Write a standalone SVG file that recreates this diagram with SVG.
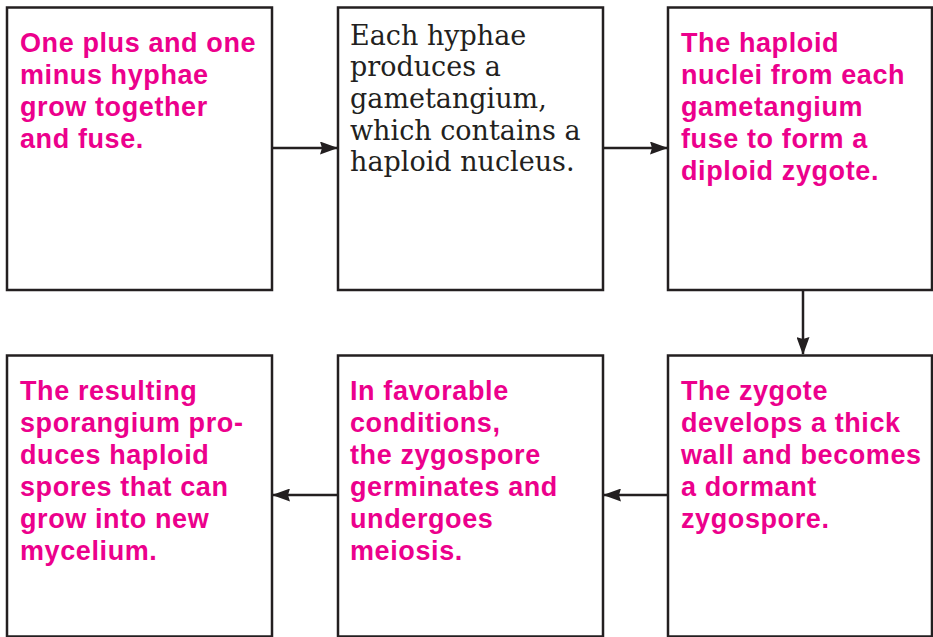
<svg xmlns="http://www.w3.org/2000/svg" width="933" height="637" viewBox="0 0 933 637">
<style>
.box{fill:#fff;stroke:#231f20;stroke-width:2.5}
.pk{font-family:"Liberation Sans",Arial,sans-serif;font-weight:bold;font-size:27px;letter-spacing:0.6px;fill:#ec008c}
.sr{font-family:"DejaVu Serif","Liberation Serif",serif;font-size:27px;fill:#231f20}
.con{stroke:#231f20;stroke-width:2.5;fill:none;marker-end:url(#ah)}
</style>
<defs>
<marker id="ah" viewBox="0 0 18 13" refX="17" refY="6.5" markerWidth="18" markerHeight="13" markerUnits="userSpaceOnUse" orient="auto">
<path d="M0,0 L18,6.5 L0,13 L2,6.5 Z" fill="#231f20"/>
</marker>
</defs>
<rect width="933" height="637" fill="#fff"/>
<g id="connectors">
<line class="con" x1="273" y1="148" x2="337" y2="148"/>
<line class="con" x1="604" y1="148" x2="667" y2="148"/>
<line class="con" x1="803" y1="291" x2="803" y2="354"/>
<line class="con" x1="667" y1="495" x2="604" y2="495"/>
<line class="con" x1="337" y1="495" x2="273" y2="495"/>
</g>
<g id="node1">
<rect class="box" x="7" y="7.5" width="265" height="282.5"/>
<text class="pk" x="20"><tspan x="20" y="52">One plus and one</tspan><tspan x="20" y="84">minus hyphae</tspan><tspan x="20" y="116">grow together</tspan><tspan x="20" y="148">and fuse.</tspan></text>
</g>
<g id="node2">
<rect class="box" x="338" y="7.5" width="265" height="282.5"/>
<text class="sr"><tspan x="350" y="45">Each hyphae</tspan><tspan x="350" y="76">produces a</tspan><tspan x="350" y="108">gametangium,</tspan><tspan x="350" y="140">which contains a</tspan><tspan x="350" y="171">haploid nucleus.</tspan></text>
</g>
<g id="node3">
<rect class="box" x="668" y="7.5" width="264" height="282.5"/>
<text class="pk"><tspan x="681" y="52">The haploid</tspan><tspan x="681" y="84">nuclei from each</tspan><tspan x="681" y="116">gametangium</tspan><tspan x="681" y="148">fuse to form a</tspan><tspan x="681" y="180">diploid zygote.</tspan></text>
</g>
<g id="node4">
<rect class="box" x="668" y="355.5" width="264" height="281"/>
<text class="pk"><tspan x="681" y="400">The zygote</tspan><tspan x="681" y="432">develops a thick</tspan><tspan x="681" y="464">wall and becomes</tspan><tspan x="681" y="496">a dormant</tspan><tspan x="681" y="528">zygospore.</tspan></text>
</g>
<g id="node5">
<rect class="box" x="338" y="355.5" width="265" height="281"/>
<text class="pk"><tspan x="350" y="400">In favorable</tspan><tspan x="350" y="432">conditions,</tspan><tspan x="350" y="464">the zygospore</tspan><tspan x="350" y="496">germinates and</tspan><tspan x="350" y="528">undergoes</tspan><tspan x="350" y="560">meiosis.</tspan></text>
</g>
<g id="node6">
<rect class="box" x="7" y="355.5" width="265" height="281"/>
<text class="pk"><tspan x="20" y="400">The resulting</tspan><tspan x="20" y="432">sporangium pro-</tspan><tspan x="20" y="464">duces haploid</tspan><tspan x="20" y="496">spores that can</tspan><tspan x="20" y="528">grow into new</tspan><tspan x="20" y="560">mycelium.</tspan></text>
</g>
</svg>
